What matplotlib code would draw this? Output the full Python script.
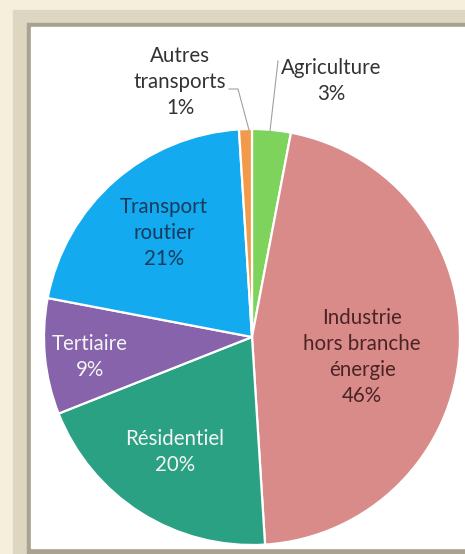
import matplotlib
matplotlib.use("Agg")
import matplotlib.pyplot as plt
from matplotlib.patches import Rectangle

categories = ["Agriculture", "Industrie\nhors branche\nénergie", "Résidentiel",
              "Tertiaire", "Transport\nroutier", "Autres\ntransports"]
values = [3, 46, 20, 9, 21, 1]
colors = ["#7ed35c", "#d98b89", "#2aa183", "#8763ab", "#13aaef", "#f29a4b"]
text_colors = ["#333333", "#4a2424", "#f4f4f4", "#f4f4f4", "#183a5c", "#333333"]

W, H = 465, 554
fig = plt.figure(figsize=(W / 100, H / 100), dpi=100)
fig.patch.set_facecolor("#f6efdc")

def rect(x0, y0, x1, y1, color):
    fig.patches.append(Rectangle((x0 / W, 1 - y1 / H), (x1 - x0) / W, (y1 - y0) / H,
                                 transform=fig.transFigure, color=color, zorder=-5))

rect(13, 10, W, H, "#ddd6c1")
rect(27, 23, W, H, "#a8a391")
rect(31, 27, W, 548, "#ffffff")

cx, cy, R = 252, 337, 208
ax = fig.add_axes([(cx - R) / W, (H - cy - R) / H, 2 * R / W, 2 * R / H])
ax.set_zorder(1)

wedges, _ = ax.pie(values, colors=colors, startangle=90, counterclock=False,
                   radius=1, wedgeprops=dict(edgecolor="white", linewidth=1.6))
ax.set_xlim(-1, 1)
ax.set_ylim(-1, 1)
ax.set_aspect("equal")
ax.axis("off")

def pos(px, py):
    return (px - cx) / R, (cy - py) / R

fs = 14.8
label_pos = [(331, 81), (362, 357), (175, 452), (90, 357), (164, 233), (180, 82)]
for cat, v, (px, py), tc in zip(categories, values, label_pos, text_colors):
    x, y = pos(px, py)
    ax.text(x, y, f"{cat}\n{v}%", ha="center", va="center", fontsize=fs,
            family="Lato", color=tc, linespacing=1.38, clip_on=False)

# leader lines
lc = "#a0a0a0"
x1, y1 = pos(229, 89)
x2, y2 = pos(238, 89)
x3, y3 = pos(249, 130)
ax.plot([x1, x2, x3], [y1, y2, y3], color=lc, lw=0.8, clip_on=False)
x1, y1 = pos(278, 61)
x2, y2 = pos(270, 131)
ax.plot([x1, x2], [y1, y2], color=lc, lw=0.8, clip_on=False)

fig.savefig("out.png", dpi=100, facecolor=fig.get_facecolor())
